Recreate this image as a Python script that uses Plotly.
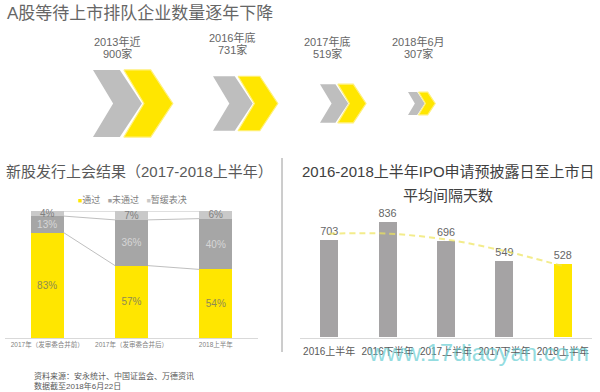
import plotly.graph_objects as go

# ---------------- data ----------------
queue_periods = ["2013年近", "2016年底", "2017年底", "2018年6月"]
queue_counts = [900, 731, 519, 307]

review_categories = ["2017年（发审委合并前）", "2017年（发审委合并后）", "2018上半年"]
review_passed = [83, 57, 54]
review_rejected = [13, 36, 40]
review_postponed = [4, 7, 6]
review_series_names = ["通过", "未通过", "暂缓表决"]

ipo_periods = ["2016上半年", "2016下半年", "2017上半年", "2017下半年", "2018上半年"]
ipo_days = [703, 836, 696, 549, 528]
ipo_trend = [750, 750, 708, 624, 515]

# ---------------- layout constants ----------------
W, H = 600, 392
FONT = "Liberation Sans, Noto Sans CJK SC, sans-serif"
YELLOW = "#FFE600"
GRAY_MID = "#A6A6A6"
GRAY_LIGHT = "#C9C9C9"
BAR_GRAY = "#A5A3A4"
CHEV_GRAY = "#BEBEBE"
CHEV_START_X = [93, 213, 320, 408]
CHEV_CENTER_Y = 103.5
CHEV_SCALE = 0.0745          # px of chevron height per company
QUEUE_TEXT_X = [117, 232, 327, 418]
QUEUE_TEXT_Y = [42, 38, 42, 42]


def px(x):
    return x / W


def py(y):
    return 1 - y / H


fig = go.Figure()

# ---------- top: chevrons sized by queue counts ----------
def chevron(x0, yc, h):
    thick, w, notch = 0.40 * h, 0.73 * h, 0.30 * h
    xs = [x0, x0 + thick, x0 + w, x0 + thick, x0, x0 + notch, x0]
    ys = [yc - h / 2, yc - h / 2, yc, yc + h / 2, yc + h / 2, yc, yc - h / 2]
    return xs, ys


for x0, cnt in zip(CHEV_START_X, queue_counts):
    h = cnt * CHEV_SCALE
    gx, gy = chevron(x0, CHEV_CENTER_Y, h)
    fig.add_trace(go.Scatter(x=gx, y=gy, mode="lines", fill="toself",
                             fillcolor=CHEV_GRAY, line=dict(width=0, color=CHEV_GRAY),
                             xaxis="x3", yaxis="y3", showlegend=False, hoverinfo="skip"))
    yx, yy = chevron(x0 + 0.46 * h, CHEV_CENTER_Y, h)
    fig.add_trace(go.Scatter(x=yx, y=yy, mode="lines", fill="toself",
                             fillcolor=YELLOW, line=dict(width=1.2, color="#FFF07A"),
                             xaxis="x3", yaxis="y3", showlegend=False, hoverinfo="skip"))

annotations = []
annotations.append(dict(text="A股等待上市排队企业数量逐年下降", x=px(5), y=py(13),
                        xref="paper", yref="paper", xanchor="left", yanchor="middle",
                        showarrow=False, font=dict(size=17, color="#666666", family=FONT)))
for per, cnt, tx, ty in zip(queue_periods, queue_counts, QUEUE_TEXT_X, QUEUE_TEXT_Y):
    annotations.append(dict(text=per, x=px(tx), y=py(ty), xref="paper", yref="paper",
                            xanchor="center", yanchor="middle", showarrow=False,
                            font=dict(size=11, color="#666666", family=FONT)))
    annotations.append(dict(text=f"{cnt}家", x=px(tx), y=py(ty + 12), xref="paper", yref="paper",
                            xanchor="center", yanchor="middle", showarrow=False,
                            font=dict(size=11, color="#666666", family=FONT)))

# ---------- left: stacked review results ----------
BAR_W = 0.39
xs_idx = list(range(len(review_categories)))
series = [(review_passed, YELLOW, "#8E8A55"),
          (review_rejected, GRAY_MID, "#D6D6D6"),
          (review_postponed, GRAY_LIGHT, "#7F7F7F")]
for name, (vals, col, tcol) in zip(review_series_names, series):
    fig.add_trace(go.Bar(x=xs_idx, y=vals, width=BAR_W, name=name, marker_color=col,
                         marker_line_width=0, text=[f"{v}%" for v in vals],
                         textposition="inside", insidetextanchor="middle",
                         constraintext="none", textangle=0,
                         textfont=dict(size=10, color=tcol, family=FONT),
                         xaxis="x", yaxis="y", showlegend=False, hoverinfo="skip",
                         cliponaxis=False))

# series (connector) lines between stacked bars
cum1 = review_passed
cum2 = [a + b for a, b in zip(review_passed, review_rejected)]
cum3 = [a + b + c for a, b, c in zip(review_passed, review_rejected, review_postponed)]
lx, ly = [], []
for cum in (cum1, cum2, cum3):
    for i in range(len(cum) - 1):
        lx += [i + BAR_W / 2, i + 1 - BAR_W / 2, None]
        ly += [cum[i], cum[i + 1], None]
fig.add_trace(go.Scatter(x=lx, y=ly, mode="lines", line=dict(color="#BFBFBF", width=1),
                         xaxis="x", yaxis="y", showlegend=False, hoverinfo="skip"))

annotations.append(dict(text="新股发行上会结果（2017-2018上半年）", x=px(4), y=py(172),
                        xref="paper", yref="paper", xanchor="left", yanchor="middle",
                        showarrow=False, font=dict(size=15, color="#595959", family=FONT)))
legend_txt = "&nbsp;&nbsp;&nbsp;".join(
    f'<span style="color:{c};font-size:7px">■</span>{n}'
    for n, c in zip(review_series_names, [YELLOW, GRAY_MID, GRAY_LIGHT]))
annotations.append(dict(text=legend_txt, x=px(132), y=py(199), xref="paper", yref="paper",
                        xanchor="center", yanchor="middle", showarrow=False,
                        font=dict(size=9, color="#808080", family=FONT)))
annotations.append(dict(text="资料来源：安永统计、中国证监会、万德资讯<br>数据截至2018年6月22日",
                        x=px(32), y=py(381), xref="paper", yref="paper",
                        xanchor="left", yanchor="middle", align="left", showarrow=False,
                        font=dict(size=8, color="#595959", family=FONT)))

# ---------- right: IPO interval days ----------
fig.add_trace(go.Bar(x=ipo_periods, y=ipo_days, width=0.31,
                     marker_color=[BAR_GRAY] * (len(ipo_days) - 1) + [YELLOW],
                     marker_line_width=0, text=[str(v) for v in ipo_days],
                     textposition="outside", textfont=dict(size=11, color="#666666", family=FONT),
                     xaxis="x2", yaxis="y2", showlegend=False, hoverinfo="skip", cliponaxis=False))
fig.add_trace(go.Scatter(x=ipo_periods, y=ipo_trend, mode="lines",
                         line=dict(color="rgba(238,228,90,0.7)", width=2, dash="6px,4px", shape="spline"),
                         xaxis="x2", yaxis="y2", showlegend=False, hoverinfo="skip"))

annotations.append(dict(text="2016-2018上半年IPO申请预披露日至上市日", x=px(448), y=py(172),
                        xref="paper", yref="paper", xanchor="center", yanchor="middle",
                        showarrow=False, font=dict(size=15, color="#404040", family=FONT)))
annotations.append(dict(text="平均间隔天数", x=px(448), y=py(195),
                        xref="paper", yref="paper", xanchor="center", yanchor="middle",
                        showarrow=False, font=dict(size=15, color="#404040", family=FONT)))
annotations.append(dict(text="www.17diaoyan.com", x=px(478), y=py(352),
                        xref="paper", yref="paper", xanchor="center", yanchor="middle",
                        showarrow=False, font=dict(size=24, color="rgba(100,205,210,0.7)",
                                                   family="Liberation Sans, sans-serif")))

shapes = [dict(type="line", xref="paper", yref="paper", x0=px(282), x1=px(282),
               y0=py(158), y1=py(352), line=dict(color="#9A9A9A", width=1))]

fig.update_layout(
    width=W, height=H, margin=dict(l=0, r=0, t=0, b=0),
    paper_bgcolor="white", plot_bgcolor="rgba(0,0,0,0)",
    barmode="stack", showlegend=False,
    font=dict(family=FONT),
    annotations=annotations, shapes=shapes,
    xaxis=dict(domain=[px(5), px(258)], range=[-0.5, 2.5], tickvals=xs_idx,
               ticktext=review_categories, showgrid=False, zeroline=False,
               showline=True, linecolor="#D9D9D9", linewidth=1, ticks="", tickangle=0,
               tickfont=dict(size=6.5, color="#7F7F7F", family=FONT), fixedrange=True),
    yaxis=dict(domain=[py(338), py(211)], range=[0, 100], visible=False, fixedrange=True),
    xaxis2=dict(domain=[px(300), px(592)], showgrid=False, zeroline=False,
                showline=True, linecolor="#D9D9D9", linewidth=1, ticks="", tickangle=0,
                ticklabelstandoff=4,
                tickfont=dict(size=10, color="#595959", family=FONT), fixedrange=True),
    yaxis2=dict(domain=[py(337), py(213)], range=[0, 900], visible=False, fixedrange=True),
    xaxis3=dict(domain=[0, 1], range=[0, W], visible=False, fixedrange=True),
    yaxis3=dict(domain=[0, 1], range=[H, 0], visible=False, fixedrange=True),
)

fig.write_html("out.html", config={"displayModeBar": False},
               post_script="document.body.style.margin='0';document.body.style.overflow='hidden';")
